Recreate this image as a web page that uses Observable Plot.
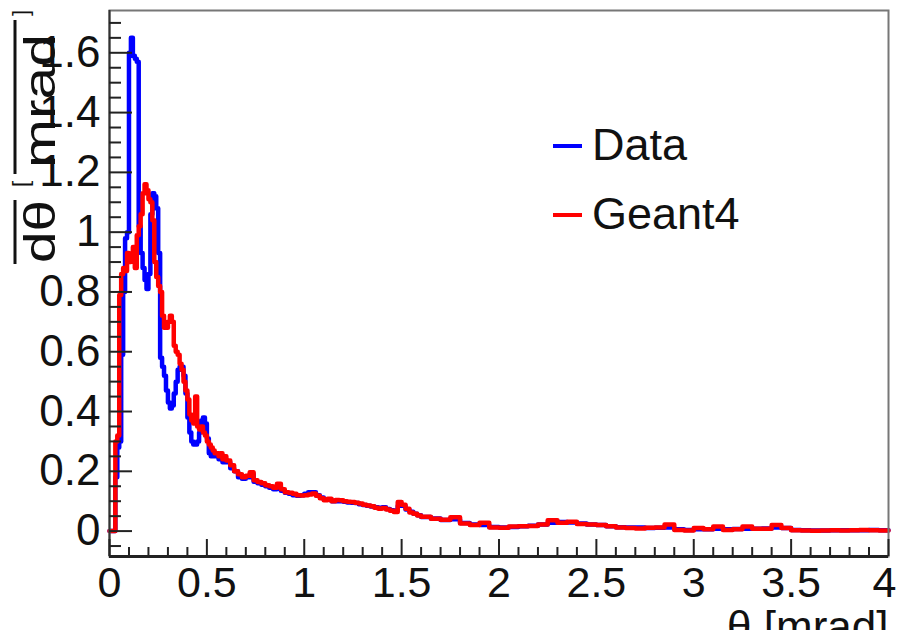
<!DOCTYPE html>
<html><head><meta charset="utf-8">
<script src="https://cdn.jsdelivr.net/npm/d3@7"></script>
<script src="https://cdn.jsdelivr.net/npm/@observablehq/plot@0.6"></script>
<style>
html,body{margin:0;padding:0;background:#fff;}
#chart{width:898px;height:630px;overflow:hidden;}
</style></head><body><div id="chart"></div>
<script>
// ---- Data: normalized angular distributions (bin low edges in mrad) ----
const fineEdges = d3.range(60).map(i => +(i * 0.01).toFixed(2));        // 0.00 .. 0.59
const midEdges  = d3.range(50).map(i => +(0.6 + i * 0.02).toFixed(2));  // 0.60 .. 1.58
const tailEdges = d3.range(48).map(i => +(1.6 + i * 0.05).toFixed(2));  // 1.60 .. 3.95
const xMax = 4;

const dataFine = [
  0,0,0,0.18,0.28,0.30,0.59,0.80,0.98,1.00,
  1.60,1.65,1.59,1.58,1.57,1.02,0.93,0.88,0.84,0.81,
  0.86,1.06,1.13,1.12,1.08,0.93,0.58,0.55,0.52,0.47,
  0.43,0.41,0.42,0.46,0.50,0.54,0.55,0.55,0.52,0.46,
  0.38,0.33,0.30,0.29,0.29,0.30,0.33,0.37,0.38,0.36,
  0.31,0.26,0.25,0.25,0.26,0.25,0.24,0.25,0.23,0.24
];
const dataMid = [
  0.23,0.21,0.20,0.18,0.175,0.18,0.19,0.165,0.16,0.155,
  0.15,0.145,0.14,0.15,0.135,0.128,0.125,0.12,0.118,0.12,
  0.125,0.13,0.13,0.12,0.112,0.105,0.106,0.10,0.10,0.10,
  0.098,0.096,0.095,0.094,0.09,0.087,0.085,0.082,0.08,0.078,
  0.08,0.074,0.07,0.068,0.085,0.085,0.072,0.065,0.058,0.053
];
const dataTail = [
  0.047,0.042,0.037,0.040,0.027,0.022,0.020,0.014,0.012,0.014,
  0.016,0.018,0.022,0.028,0.030,0.029,0.025,0.022,0.020,0.016,
  0.013,0.012,0.012,0.010,0.011,0.012,0.006,0.004,0.006,0.006,
  0.008,0.006,0.007,0.008,0.008,0.009,0.012,0.010,0.004,0.003,
  0.002,0.002,0.003,0.003,0.003,0.003,0.004,0.003
];

const geantFine = [
  0,0,0,0.30,0.32,0.79,0.86,0.88,0.87,0.93,
  0.90,0.91,0.95,0.88,0.99,1.02,1.06,1.13,1.16,1.14,
  1.11,1.10,1.04,0.90,0.85,0.82,0.80,0.72,0.68,0.68,
  0.70,0.72,0.70,0.62,0.60,0.59,0.56,0.54,0.50,0.47,
  0.44,0.39,0.37,0.36,0.45,0.35,0.34,0.35,0.33,0.32,
  0.30,0.29,0.28,0.27,0.26,0.26,0.25,0.26,0.24,0.25
];
const geantMid = [
  0.236,0.22,0.20,0.19,0.18,0.185,0.197,0.17,0.164,0.16,
  0.153,0.15,0.145,0.158,0.14,0.13,0.128,0.125,0.12,0.119,
  0.12,0.122,0.126,0.118,0.11,0.103,0.108,0.10,0.104,0.103,
  0.10,0.098,0.097,0.095,0.092,0.088,0.086,0.083,0.078,0.075,
  0.077,0.072,0.068,0.064,0.097,0.088,0.075,0.062,0.058,0.052
];
const geantTail = [
  0.048,0.041,0.038,0.046,0.025,0.020,0.028,0.012,0.011,0.015,
  0.016,0.017,0.022,0.036,0.028,0.031,0.024,0.022,0.020,0.016,
  0.012,0.010,0.009,0.011,0.012,0.022,0.004,0.002,0.010,0.006,
  0.015,0.004,0.006,0.015,0.008,0.008,0.020,0.010,0.003,0.002,
  0.001,0.002,0.003,0.002,0.003,0.004,0.003,0.002
];

const seriesNames = ["Data", "Geant4"];
const seriesColors = ["#0000ff", "#ff0000"];
const majorY = [0, 0.2, 0.4, 0.6, 0.8, 1, 1.2, 1.4, 1.6];
const majorX = [0, 0.5, 1, 1.5, 2, 2.5, 3, 3.5, 4];
const xTitle = "θ [mrad]";

// ---- Build step rows ----
const edges = [...fineEdges, ...midEdges, ...tailEdges];
function rows(vals) {
  const r = edges.map((e, i) => ({x: e, y: vals[i]}));
  r.push({x: xMax, y: vals[vals.length - 1]});
  return r;
}
const dataRows = rows([...dataFine, ...dataMid, ...dataTail]);
const geantRows = rows([...geantFine, ...geantMid, ...geantTail]);

const minorY = d3.range(-1, 35).map(i => +(i * 0.05).toFixed(2)).filter(v => !majorY.some(m => Math.abs(m - v) < 1e-6));
const minorX = d3.range(0, 41).map(i => +(i * 0.1).toFixed(1)).filter(v => !majorX.some(m => Math.abs(m - v) < 1e-6));

const W = 898, H = 630, mL = 109, mR = 10, mT = 10, mB = 74;
const plotW = W - mL - mR, plotH = H - mT - mB;
const yDomain = [-0.085, 1.7415];
const FONT = "'Liberation Sans', Arial, Helvetica, sans-serif";
const ink = "#111";
const fmt = d => String(d);

const plot = Plot.plot({
  width: W, height: H,
  marginLeft: mL, marginRight: mR, marginTop: mT, marginBottom: mB,
  x: {domain: [0, xMax], axis: null},
  y: {domain: yDomain, axis: null},
  style: {fontFamily: FONT, background: "white", overflow: "hidden"},
  marks: [
    Plot.line(dataRows, {x: "x", y: "y", curve: "step-after", stroke: seriesColors[0], strokeWidth: 4.5}),
    Plot.line(geantRows, {x: "x", y: "y", curve: "step-after", stroke: seriesColors[1], strokeWidth: 4.5}),
    Plot.frame({stroke: "#777", strokeWidth: 2}),
    Plot.ruleX([0], {stroke: "#333", strokeWidth: 2}),
    Plot.ruleY([yDomain[0]], {stroke: "#222", strokeWidth: 3}),
    Plot.tickY(majorY, {y: d => d, insetRight: plotW - 23, stroke: "#222", strokeWidth: 2}),
    Plot.tickY(minorY, {y: d => d, insetRight: plotW - 12, stroke: "#222", strokeWidth: 2}),
    Plot.tickX(majorX, {x: d => d, insetTop: plotH - 17, stroke: "#222", strokeWidth: 2}),
    Plot.tickX(minorX, {x: d => d, insetTop: plotH - 9, stroke: "#222", strokeWidth: 2}),
    Plot.text(majorY, {y: d => d, frameAnchor: "left", textAnchor: "end", dx: -9, fontSize: 44, fill: ink, text: fmt}),
    Plot.text(majorX.slice(0, -1), {x: d => d, frameAnchor: "bottom", lineAnchor: "top", dy: 10, fontSize: 43, fill: ink, text: fmt}),
    Plot.text(majorX.slice(-1), {x: d => d, frameAnchor: "bottom", lineAnchor: "top", textAnchor: "end", dx: 8, dy: 10, fontSize: 43, fill: ink, text: fmt}),
    Plot.text([xTitle], {frameAnchor: "bottom-right", textAnchor: "end", lineAnchor: "top", dy: 54, fontSize: 44, fill: ink, text: d => d})
  ]
});

const svg = d3.select(plot);
// Y-axis title (rotated, ROOT-style fractions with numerators cut off at the left edge)
const g = svg.append("g").attr("font-family", FONT).attr("fill", ink).attr("text-anchor", "start");
g.append("text").attr("transform", "translate(55,263) rotate(-90)").attr("font-size", 44).attr("text-anchor", "start")
  .attr("textLength", 63).attr("lengthAdjust", "spacingAndGlyphs").text("dθ");
g.append("line").attr("x1", 15).attr("x2", 15).attr("y1", 200).attr("y2", 264).attr("stroke", ink).attr("stroke-width", 3);
g.append("text").attr("transform", "translate(28,187) rotate(-90)").attr("font-size", 22).attr("text-anchor", "start").text("[");
g.append("text").attr("transform", "translate(55,168) rotate(-90)").attr("font-size", 44).attr("text-anchor", "start")
  .attr("textLength", 134).attr("lengthAdjust", "spacingAndGlyphs").text("mrad");
g.append("line").attr("x1", 15).attr("x2", 15).attr("y1", 20).attr("y2", 174).attr("stroke", ink).attr("stroke-width", 3);
g.append("text").attr("transform", "translate(28,16) rotate(-90)").attr("font-size", 22).attr("text-anchor", "start").text("]");

// Legend
const leg = svg.append("g").attr("font-family", FONT).attr("text-anchor", "start");
seriesNames.forEach((name, i) => {
  const cy = 146 + i * 69;
  leg.append("line").attr("x1", 553).attr("x2", 582).attr("y1", cy).attr("y2", cy)
    .attr("stroke", seriesColors[i]).attr("stroke-width", 4);
  leg.append("text").attr("x", 592).attr("y", cy + 14).attr("font-size", 45).attr("fill", ink)
    .attr("text-anchor", "start").text(name);
});

document.getElementById("chart").appendChild(plot);
</script>
</body></html>
